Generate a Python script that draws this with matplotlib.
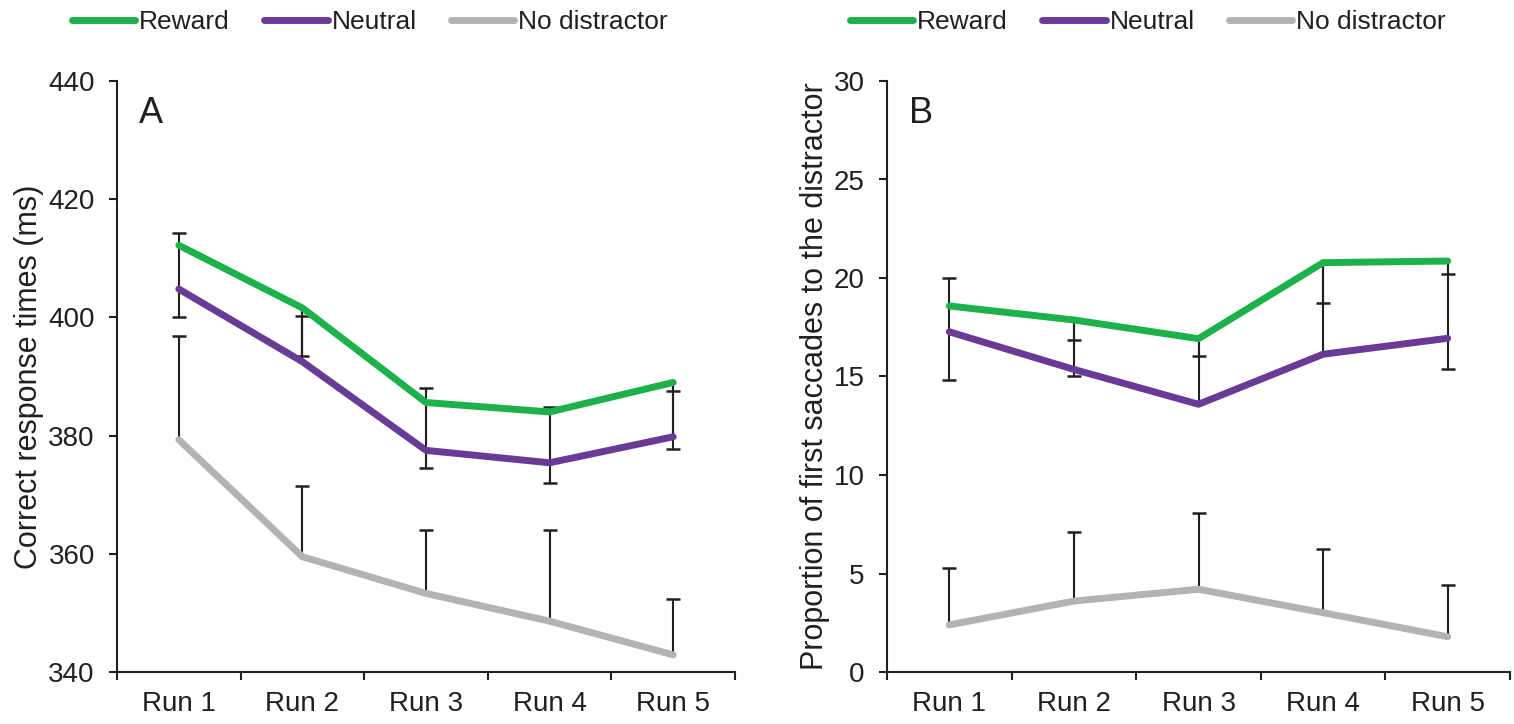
import numpy as np
import matplotlib
matplotlib.use("Agg")
import matplotlib.pyplot as plt
from matplotlib.lines import Line2D
from matplotlib.ticker import FixedLocator

plt.rcParams["font.family"] = ["Liberation Sans", "DejaVu Sans"]

runs = ["Run 1", "Run 2", "Run 3", "Run 4", "Run 5"]
series_names = ["Reward", "Neutral", "No distractor"]

# Panel A: correct response times (ms)
rt_reward = [412.2, 401.6, 385.6, 384.0, 389.0]
rt_neutral = [404.8, 392.5, 377.5, 375.4, 379.8]
rt_none = [379.3, 359.5, 353.3, 348.6, 342.9]
rt_reward_err_lo = [0, 8.2, 0, 0, 0]
rt_reward_err_hi = [2.1, 0, 2.5, 0.8, 0]
rt_neutral_err_lo = [4.8, 0, 2.9, 3.4, 2.0]
rt_neutral_err_hi = [0, 7.7, 0, 0, 7.8]
rt_none_err_hi = [17.6, 12.0, 10.8, 15.5, 9.4]

# Panel B: proportion of first saccades to the distractor
sac_reward = [18.58, 17.87, 16.92, 20.78, 20.86]
sac_neutral = [17.27, 15.36, 13.59, 16.13, 16.94]
sac_none = [2.39, 3.60, 4.20, 3.01, 1.79]
sac_reward_err_lo = [0, 1.0, 0.88, 2.03, 0.67]
sac_reward_err_hi = [1.4, 0, 0, 0, 0]
sac_neutral_err_lo = [2.46, 0.33, 0, 0, 1.57]
sac_neutral_err_hi = [0, 0, 0, 0, 0]
sac_none_err_hi = [2.87, 3.49, 3.86, 3.22, 2.61]

green = "#1db14b"
purple = "#6a3b96"
gray = "#b3b3b3"
dark = "#231f20"
x = np.arange(len(runs))


def err_caps(ax, y, lo, hi):
    y, lo, hi = np.array(y), np.array(lo), np.array(hi)
    ax.vlines(x, y - lo, y + hi, color=dark, lw=1.5, zorder=2)
    m = hi > 0
    ax.plot(x[m], (y + hi)[m], ls="none", marker="_", ms=10, mew=1.8, color=dark, zorder=2)
    m = lo > 0
    ax.plot(x[m], (y - lo)[m], ls="none", marker="_", ms=10, mew=1.8, color=dark, zorder=2)


def panel(ax, rew, neu, none, rlo, rhi, nlo, nhi, nohi, ylim, yticks, ylabel, letter):
    # connector between reward and neutral, then the error bars
    ax.vlines(x, neu, rew, color=dark, lw=1.5, zorder=2)
    err_caps(ax, rew, rlo, rhi)
    err_caps(ax, neu, nlo, nhi)
    err_caps(ax, none, [0] * len(x), nohi)
    for vals, c in zip([none, neu, rew], [gray, purple, green]):
        ax.plot(x, vals, color=c, lw=5, solid_capstyle="round", solid_joinstyle="round", zorder=3)

    ax.set_xlim(-0.5, len(runs) - 0.5)
    ax.set_ylim(*ylim)
    ax.set_yticks(yticks)
    ax.set_xticks(x)
    ax.set_xticklabels(runs)
    ax.xaxis.set_minor_locator(FixedLocator(np.arange(-0.5, len(runs), 1.0)))
    ax.tick_params(axis="x", which="major", length=0, pad=14, labelsize=20, colors=dark)
    ax.tick_params(axis="x", which="minor", length=6, width=1.5, color=dark)
    ax.tick_params(axis="y", length=6, width=1.5, pad=10, labelsize=20, colors=dark)
    for s in ["top", "right"]:
        ax.spines[s].set_visible(False)
    for s in ["left", "bottom"]:
        ax.spines[s].set_linewidth(1.5)
        ax.spines[s].set_color(dark)
    ax.set_ylabel(ylabel, fontsize=22, color=dark, labelpad=3)
    ax.text(0.035, 0.945, letter, transform=ax.transAxes, fontsize=26, va="center", ha="left", color=dark)


fig = plt.figure(figsize=(15.14, 7.24), dpi=100)
axA = fig.add_axes([117 / 1514, 52 / 724, 618 / 1514, 591 / 724])
axB = fig.add_axes([887 / 1514, 52 / 724, 623 / 1514, 591 / 724])

panel(axA, rt_reward, rt_neutral, rt_none,
      rt_reward_err_lo, rt_reward_err_hi, rt_neutral_err_lo, rt_neutral_err_hi, rt_none_err_hi,
      (340, 440), np.arange(340, 441, 20), "Correct response times (ms)", "A")
panel(axB, sac_reward, sac_neutral, sac_none,
      sac_reward_err_lo, sac_reward_err_hi, sac_neutral_err_lo, sac_neutral_err_hi, sac_none_err_hi,
      (0, 30), np.arange(0, 31, 5), "Proportion of first saccades to the distractor", "B")

handles = [Line2D([], [], color=c, lw=5, solid_capstyle="round") for c in [green, purple, gray]]
for cx in [370 / 1514, 1148 / 1514]:
    fig.legend(handles, series_names, loc="center", bbox_to_anchor=(cx, 1 - 22 / 724),
               ncol=3, frameon=False, fontsize=19, handlelength=2.4, handletextpad=0.15,
               columnspacing=1.3, labelcolor=dark)

fig.savefig("out.png", dpi=100)
